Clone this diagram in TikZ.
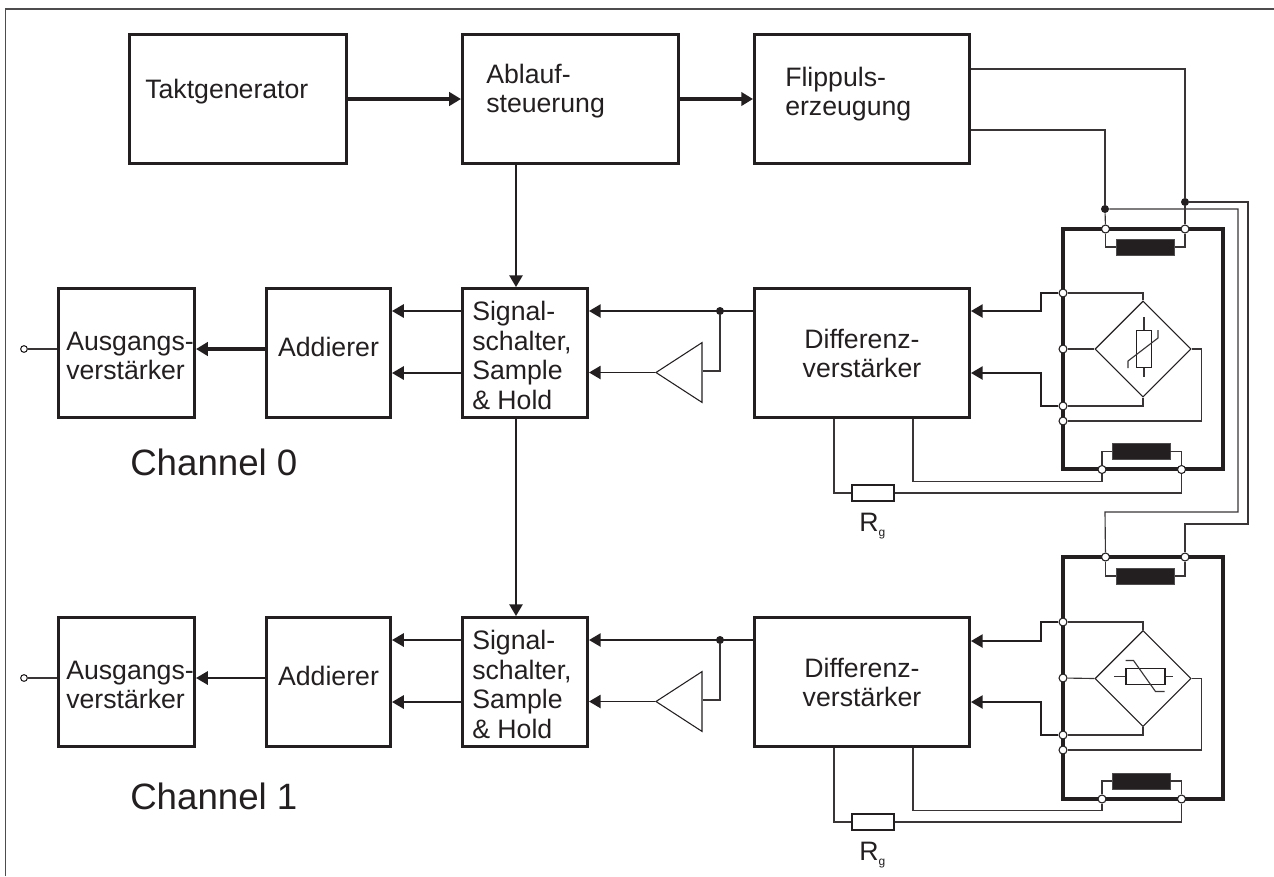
\documentclass[tikz,border=0pt]{standalone}
\usepackage{fontspec}
\setmainfont{Liberation Sans}
\usetikzlibrary{shapes.geometric,arrows.meta,positioning,calc}
\definecolor{ink}{HTML}{231F20}
\tikzset{
  B/.style={draw=ink, rectangle, line width=2.5pt, inner sep=0pt},
  CoilB/.style={rectangle, fill=ink, draw=ink!80, line width=0.4pt, inner sep=0pt,
            minimum width=43.5pt, minimum height=12pt},
  RB/.style={draw=ink, fill=white, rectangle, line width=0.9pt, inner sep=0pt,
            minimum width=31.5pt, minimum height=12pt},
  OC/.style={circle, draw=ink, fill=white, line width=0.8pt, inner sep=0pt, minimum size=6pt},
  FC/.style={circle, fill=ink, inner sep=0pt, minimum size=6pt},
  BR/.style={diamond, draw=ink, line width=0.8pt, inner sep=0pt, minimum size=72pt, aspect=1},
  AMP/.style={isosceles triangle, isosceles triangle apex angle=66, shape border rotate=180,
            draw=ink, line width=0.8pt, inner sep=0pt, minimum height=34.5pt, anchor=apex},
  TL/.style={font=\fontsize{27.5}{30}\selectfont, text=ink, inner sep=0pt},
  RL/.style={font=\fontsize{20}{22.3}\selectfont, text=ink, inner sep=0pt, align=left},
  SA/.style={-{Triangle[length=8.8pt,width=10pt]}, line width=1.3pt, draw=ink},
  TA/.style={-{Triangle[length=8.8pt,width=10pt]}, line width=2.3pt, draw=ink},
  W/.style={draw=ink!90, line width=0.85pt},
  BW/.style={draw=ink, line width=2.5pt}
}
\begin{document}
\begin{tikzpicture}[x=0.75pt, y=-0.75pt]
\useasboundingbox (0,0) rectangle (1274,876);

% ---- Frame ----
\coordinate (FB) at (5.5,876);
\coordinate (FR) at (1274,9);
\draw[draw=ink!80, line width=0.9pt] (FB) |- (FR);

% ---- Row 0: clock and control ----
\node[B, minimum width=162.5pt, minimum height=96.5pt] (TAKT) at (238,99) {};
\node[RL, anchor=west] (TAKTL) at (145,92) {Taktgenerator};
\node[B, minimum width=161.8pt, minimum height=96.5pt] (ABL) at (570.5,99) {};
\node[RL, anchor=west] (ABLL) at (486,91) {Ablauf-\\steuerung};
\node[B, minimum width=161pt, minimum height=96.5pt] (FLIP) at (862,99) {};
\node[RL, anchor=west] (FLIPL) at (785,94) {Flippuls-\\erzeugung};

% ---- Channel 0: signal path ----
\node[B, minimum width=101.8pt, minimum height=96.5pt] (AUS0) at (126.5,353) {};
\node[RL, anchor=west] (AUSL0) at (66,356) {Ausgangs-\\verstärker};
\node[B, minimum width=92.8pt, minimum height=96.5pt] (ADD0) at (328.5,353) {};
\node[RL] (ADDL0) at (328.5,347) {Addierer};
\node[B, minimum width=93.5pt, minimum height=96.5pt] (SIG0) at (525,353) {};
\node[RL, anchor=west] (SIGL0) at (472,355.5) {Signal-\\schalter,\\Sample\\\& Hold};
\node[B, minimum width=161pt, minimum height=96.5pt] (DIF0) at (862,353) {};
\node[RL, align=center] (DIFL0) at (862,353.5) {Differenz-\\verstärker};
\node[AMP] (AMP0) at (655,372.5) {};
\node[FC] (JD0) at (720,311) {};
\node[OC, minimum size=5pt] (OUT0) at (24,349) {};
\node[TL, anchor=west] (CH0) at (130,462) {Channel 0};

% ---- Channel 1: signal path ----
\node[B, minimum width=101.8pt, minimum height=96.5pt] (AUS1) at (126.5,682) {};
\node[RL, anchor=west] (AUSL1) at (66,685) {Ausgangs-\\verstärker};
\node[B, minimum width=92.8pt, minimum height=96.5pt] (ADD1) at (328.5,682) {};
\node[RL] (ADDL1) at (328.5,676) {Addierer};
\node[B, minimum width=93.5pt, minimum height=96.5pt] (SIG1) at (525,682) {};
\node[RL, anchor=west] (SIGL1) at (472,684.5) {Signal-\\schalter,\\Sample\\\& Hold};
\node[B, minimum width=161pt, minimum height=96.5pt] (DIF1) at (862,682) {};
\node[RL, align=center] (DIFL1) at (862,682.5) {Differenz-\\verstärker};
\node[AMP] (AMP1) at (655,701.5) {};
\node[FC] (JD1) at (720,640) {};
\node[OC, minimum size=5pt] (OUT1) at (24,678) {};
\node[TL, anchor=west] (CH1) at (130,796) {Channel 1};

% ---- Bridge housings ----
\draw[BW] (1063,229) rectangle (1223,469);
\draw[BW] (1063,557) rectangle (1223,799);

% ---- Bridge 0 ----
\node[FC] (F0A) at (1105,209) {};
\node[FC] (F0B) at (1185,202) {};
\node[OC] (T0A) at (1105.5,229) {};
\node[OC] (T0B) at (1185,229) {};
\node[OC] (L0A) at (1063,293) {};
\node[OC] (L0B) at (1063,349) {};
\node[OC] (L0C) at (1063,406) {};
\node[OC] (L0D) at (1063,421) {};
\node[OC] (B0A) at (1102,469.5) {};
\node[OC] (B0B) at (1181.5,469.5) {};
\node[CoilB] (C0T) at (1145.5,247) {};
\node[CoilB] (C0B) at (1141,451.5) {};
\node[BR] (BR0) at (1143,349) {};
\node[draw=ink, line width=0.8pt, rectangle, inner sep=0pt, minimum width=11.25pt, minimum height=27.75pt] (VR0) at (1144,349) {};
\node[RB] (RG0) at (873,493) {};
\node[RL, anchor=west] (RGL0) at (859,526) {R\textsubscript{\fontsize{9}{9}\selectfont g}};

% ---- Bridge 1 ----
\node[OC] (T1A) at (1105.5,557) {};
\node[OC] (T1B) at (1185,557) {};
\node[OC] (L1A) at (1063,622) {};
\node[OC] (L1B) at (1063,678) {};
\node[OC] (L1C) at (1063,735) {};
\node[OC] (L1D) at (1063,750) {};
\node[OC] (B1A) at (1102,799) {};
\node[OC] (B1B) at (1181.5,799) {};
\node[CoilB] (C1T) at (1145.5,576) {};
\node[CoilB] (C1B) at (1141,781) {};
\node[BR] (BR1) at (1143,678.5) {};
\node[draw=ink, line width=0.8pt, rectangle, inner sep=0pt, minimum width=29.25pt, minimum height=11.5pt] (VR1) at (1145.5,676.5) {};
\node[RB] (RG1) at (873,822) {};
\node[RL, anchor=west] (RGL1) at (859,855) {R\textsubscript{\fontsize{9}{9}\selectfont g}};

% ---- Control flow arrows ----
\draw[TA] (TAKT) -- (ABL);
\draw[TA] (ABL) -- (FLIP);
\draw[SA] (ABL.south -| 516,0) -- (SIG0.north -| 516,0);
\draw[SA] (SIG0.south -| 516,0) -- (SIG1.north -| 516,0);

% ---- Flip pulse wiring ----
\draw[W] (FLIP.east |- 0,69) -| (F0B);
\draw[W] (FLIP.east |- 0,130) -| (F0A);
\draw[W] (F0A) -- (T0A);
\draw[W] (F0B) -- (T0B);
\draw[W] (F0B) -- ++(63,0) |- ++(-63,322) -- (T1B);
\draw[W] (F0A) -- ++(133,0) |- ++(-133,303) -- (T1A);

% ---- Channel 0 arrows ----
\draw[W] (OUT0) -- (AUS0.west |- OUT0);
\draw[TA] (ADD0.west |- OUT0) -- (AUS0.east |- OUT0);
\draw[SA] (SIG0.west |- 0,311) -- (ADD0.east |- 0,311);
\draw[SA] (SIG0.west |- 0,373) -- (ADD0.east |- 0,373);
\draw[SA] (DIF0.west |- JD0) -- (SIG0.east |- JD0);
\draw[SA] (AMP0.apex) -- (SIG0.east |- AMP0.apex);
\draw[W] (JD0) |- (AMP0.east |- 0,371);
\draw[SA] (L0A) -- ++(-22,0) |- (DIF0.east |- 0,311);
\draw[SA] (L0C) -- ++(-22,0) |- (DIF0.east |- 0,373);

% ---- Bridge 0 wiring ----
\draw[W] (T0A) |- (C0T);
\draw[W] (T0B) |- (C0T);
\draw[W] (L0A) -| (BR0.north);
\draw[W] (L0B) -- (BR0.west);
\draw[W] (L0C) -| (BR0.south);
\draw[W] (BR0.east) -- ++(10,0) |- (L0D);
\draw[W] (B0A) |- (C0B);
\draw[W] (B0B) |- (C0B);
\draw[W] (B0A) -- ++(0,12) -| (DIF0.south -| 913,0);
\draw[W] (B0B) |- (RG0.east);
\draw[W] (RG0.west) -| (DIF0.south -| 834,0);
\draw[W] (VR0.north) -- ++(0,-13);
\draw[W] (VR0.south) -- ++(0,9);
\draw[W] (VR0.center) ++(14,-19) -- ++(0,8) -- ++(-30,23) -- ++(0,7);

% ---- Channel 1 arrows ----
\draw[W] (OUT1) -- (AUS1.west |- OUT1);
\draw[SA] (ADD1.west |- OUT1) -- (AUS1.east |- OUT1);
\draw[SA] (SIG1.west |- 0,640) -- (ADD1.east |- 0,640);
\draw[SA] (SIG1.west |- 0,702) -- (ADD1.east |- 0,702);
\draw[SA] (DIF1.west |- JD1) -- (SIG1.east |- JD1);
\draw[SA] (AMP1.apex) -- (SIG1.east |- AMP1.apex);
\draw[W] (JD1) |- (AMP1.east |- 0,700);
\draw[SA] (L1A) -- ++(-22,0) |- (DIF1.east |- 0,641);
\draw[SA] (L1C) -- ++(-22,0) |- (DIF1.east |- 0,702);

% ---- Bridge 1 wiring ----
\draw[W] (T1A) |- (C1T);
\draw[W] (T1B) |- (C1T);
\draw[W] (L1A) -| (BR1.north);
\draw[W] (L1B) -- (BR1.west);
\draw[W] (L1C) -| (BR1.south);
\draw[W] (BR1.east) -- ++(10,0) |- (L1D);
\draw[W] (B1A) |- (C1B);
\draw[W] (B1B) |- (C1B);
\draw[W] (B1A) -- ++(0,11.5) -| (DIF1.south -| 913,0);
\draw[W] (B1B) |- (RG1.east);
\draw[W] (RG1.west) -| (DIF1.south -| 834,0);
\draw[W] (VR1.west) -- ++(-11,0);
\draw[W] (VR1.east) -- ++(7,0);
\draw[W] (VR1.center) ++(-20,-16) -- ++(8,0) -- ++(22,31) -- ++(9,0);

\end{tikzpicture}
\end{document}
